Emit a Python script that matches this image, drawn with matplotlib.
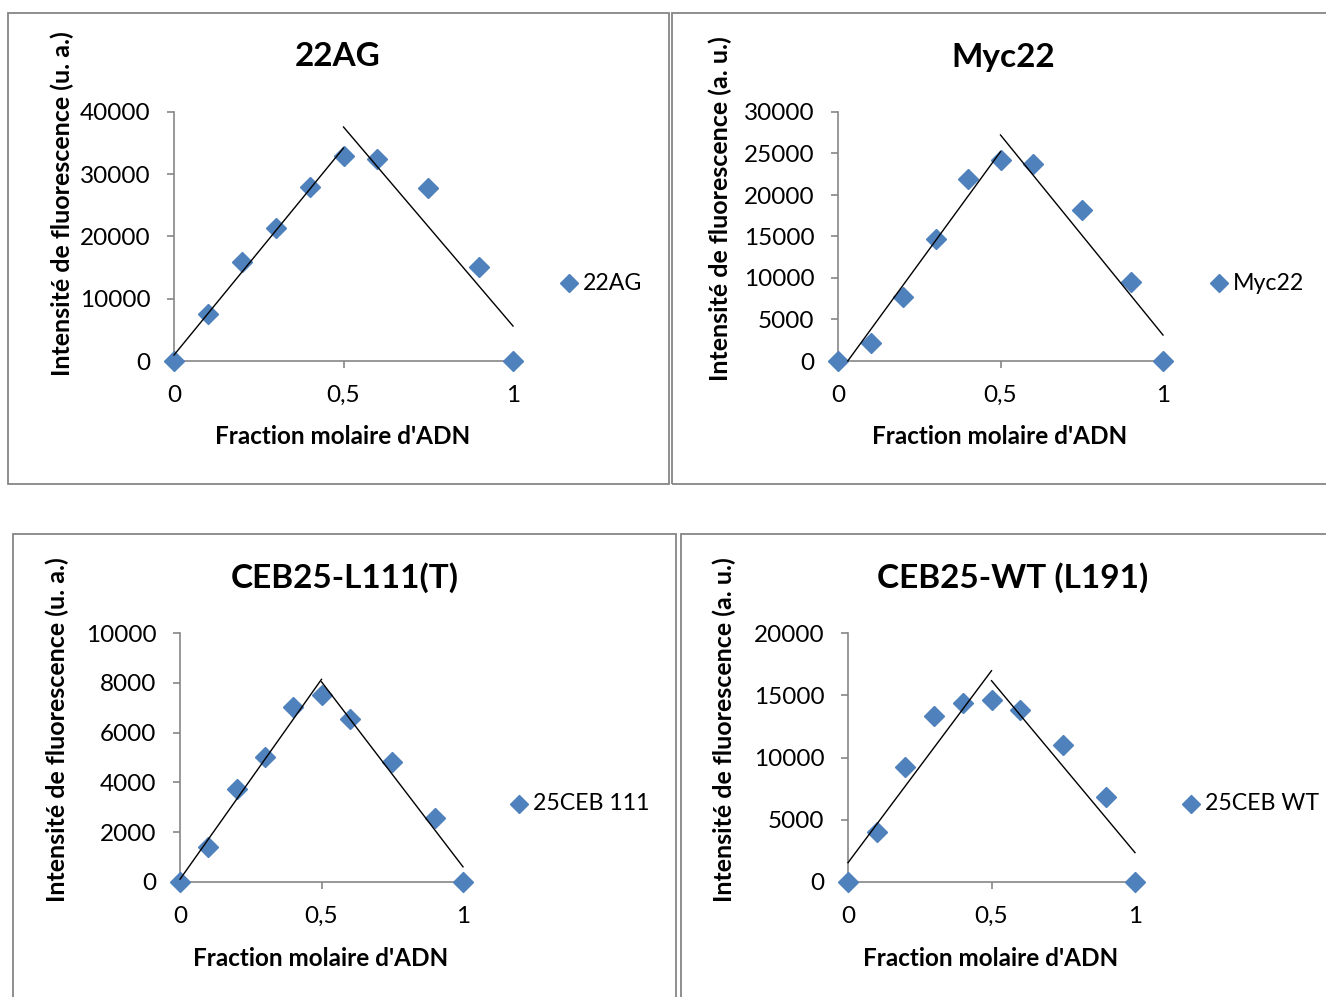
import matplotlib.pyplot as plt
from matplotlib.patches import Rectangle

plt.rcParams['font.family'] = ['Lato', 'DejaVu Sans']

W, H = 1326, 997

# molar fraction of DNA (same for every panel)
fraction = [0, 0.1, 0.2, 0.3, 0.4, 0.5, 0.6, 0.75, 0.9, 1]

# fluorescence intensities
ag22 = [0, 7550, 15900, 21400, 27950, 32900, 32450, 27800, 15100, 0]
myc22 = [0, 2200, 7670, 14660, 21890, 24220, 23730, 18190, 9560, 0]
ceb111 = [0, 1420, 3720, 5030, 7040, 7510, 6550, 4830, 2580, 0]
ceb_wt = [0, 4040, 9260, 13330, 14400, 14620, 13820, 11000, 6800, 0]

# hand drawn straight lines (x0, x1), (y0, y1)
ag22_lines = [([0, 0.5], [960, 34220]), ([0.5, 1], [37590, 5620])]
myc22_lines = [([0.03, 0.5], [0, 25220]), ([0.5, 1], [27230, 3130])]
ceb111_lines = [([0, 0.5], [110, 8140]), ([0.5, 1], [8040, 610])]
ceb_wt_lines = [([0, 0.5], [1550, 16970]), ([0.5, 1], [16170, 2360])]

titles = ["22AG", "Myc22", "CEB25-L111(T)", "CEB25-WT (L191)"]
legend_names = ["22AG", "Myc22", "25CEB 111", "25CEB WT"]
ylabels = ["Intensité de fluorescence (u. a.)", "Intensité de fluorescence (a. u.)",
           "Intensité de fluorescence (u. a.)", "Intensité de fluorescence (a. u.)"]
xlabel = "Fraction molaire d'ADN"
y_max = [40000, 30000, 10000, 20000]
y_step = [10000, 5000, 2000, 5000]

series = [ag22, myc22, ceb111, ceb_wt]
lines = [ag22_lines, myc22_lines, ceb111_lines, ceb_wt_lines]

# layout in pixels: frame box, axes box (x0, x1, ytop, ybottom), title, ylabel, xlabel, legend
layout = [
    dict(box=(8, 13, 669, 484), ax=(174, 513, 112, 361), title=(338, 57),
         ylab=(62, 204), xlab=(343, 436), leg=(569, 283)),
    dict(box=(672, 13, 1340, 484), ax=(838, 1163, 112, 361), title=(1003, 57),
         ylab=(720, 209), xlab=(1000, 436), leg=(1219, 283)),
    dict(box=(13, 534, 676, 1010), ax=(180, 463, 633, 882), title=(345, 578),
         ylab=(57, 730), xlab=(321, 958), leg=(519, 804)),
    dict(box=(681, 534, 1340, 1010), ax=(848, 1135, 633, 882), title=(1013, 578),
         ylab=(724, 730), xlab=(991, 958), leg=(1191, 804)),
]

blue = '#4F81BD'
grey = '#868686'

fig = plt.figure(figsize=(W / 100, H / 100), dpi=100)


def fx(px):
    return px / W


def fy(py):
    return 1 - py / H


for i in range(4):
    L = layout[i]
    bx0, by0, bx1, by1 = L['box']
    fig.patches.append(Rectangle((fx(bx0), fy(by1)), fx(bx1 - bx0), (by1 - by0) / H,
                                 transform=fig.transFigure, fill=False,
                                 edgecolor=grey, linewidth=1.3))

    x0, x1, yt, yb = L['ax']
    ax = fig.add_axes([fx(x0), fy(yb), fx(x1 - x0), (yb - yt) / H])
    ax.plot(fraction, series[i], linestyle='none', marker='D', ms=10.5,
            color=blue, clip_on=False, zorder=5)
    for lx, ly in lines[i]:
        ax.plot(lx, ly, color='black', lw=1.0, clip_on=False, zorder=6)

    ax.set_xlim(0, 1)
    ax.set_ylim(0, y_max[i])
    ax.set_xticks([0, 0.5, 1])
    ax.set_xticklabels(["0", "0,5", "1"])
    ax.set_yticks(range(0, y_max[i] + 1, y_step[i]))
    ax.spines['top'].set_visible(False)
    ax.spines['right'].set_visible(False)
    for s in ('left', 'bottom'):
        ax.spines[s].set_color(grey)
        ax.spines[s].set_linewidth(1.2)
    ax.tick_params(axis='both', colors=grey, labelcolor='black', labelsize=17.5,
                   length=5, width=1.2)
    ax.tick_params(axis='x', pad=12)
    ax.tick_params(axis='y', pad=12)
    ax.patch.set_visible(False)

    fig.text(fx(L['title'][0]), fy(L['title'][1]), titles[i], fontsize=24,
             fontweight='bold', ha='center', va='center')
    fig.text(fx(L['ylab'][0]), fy(L['ylab'][1]), ylabels[i], fontsize=18,
             fontweight='bold', rotation=90, ha='center', va='center')
    fig.text(fx(L['xlab'][0]), fy(L['xlab'][1]), xlabel, fontsize=17.5,
             fontweight='bold', ha='center', va='center')

    lx_, ly_ = L['leg']
    fig.lines.append(plt.Line2D([fx(lx_)], [fy(ly_)], transform=fig.transFigure,
                                marker='D', ms=9, color=blue, linestyle='none'))
    fig.text(fx(lx_ + 14), fy(ly_), legend_names[i], fontsize=16.7,
             ha='left', va='center')

fig.savefig('out.png', dpi=100)
